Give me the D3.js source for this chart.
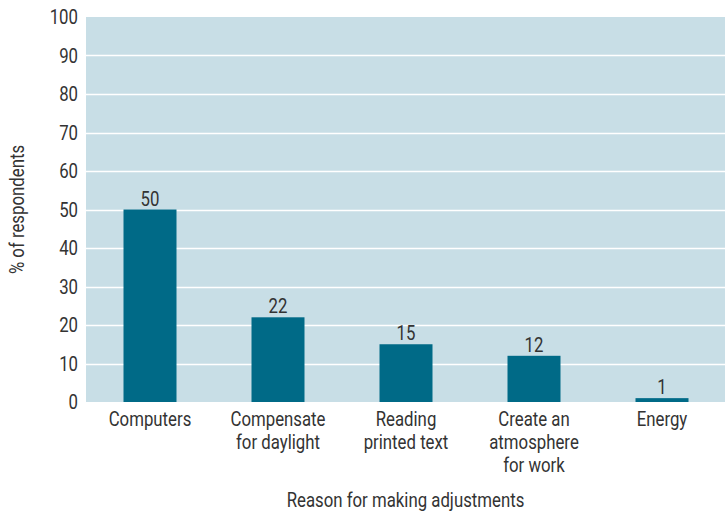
<!DOCTYPE html>
<html>
<head>
<meta charset="utf-8">
<script src="https://cdn.jsdelivr.net/npm/d3@7"></script>
<style>
  body { margin: 0; background: #fff; }
  text { font-family: "Roboto", sans-serif; fill: #333; }
</style>
</head>
<body>
<div id="chart"></div>
<script>
// data
const categories = ['Computers', 'Compensate for daylight', 'Reading printed text', 'Create an atmosphere for work', 'Energy'];
const labelLines = [['Computers'], ['Compensate', 'for daylight'], ['Reading', 'printed text'], ['Create an', 'atmosphere', 'for work'], ['Energy']];
const values = [50, 22, 15, 12, 1];
const yTicks = [0, 10, 20, 30, 40, 50, 60, 70, 80, 90, 100];

const width = 725, height = 512;
const margin = { top: 17, right: -1, bottom: 110, left: 86 };
const fontSize = 20;
const squeeze = 0.84; // fake a condensed face

const svg = d3.select('#chart').append('svg')
    .attr('width', width)
    .attr('height', height);

const x = d3.scaleBand()
    .domain(categories)
    .range([margin.left, width - margin.right])
    .paddingInner(0.586)
    .paddingOuter(0.293);

const y = d3.scaleLinear()
    .domain([0, 100])
    .range([height - margin.bottom, margin.top]);

// condensed text helper
function label(parent, px, py, anchor, lines, rotate) {
    const g = parent.append('g')
        .attr('transform', `translate(${px},${py})` + (rotate ? ` rotate(${rotate})` : '') + ` scale(${squeeze},1)`);
    const t = g.append('text')
        .attr('text-anchor', anchor)
        .attr('font-size', fontSize);
    t.selectAll('tspan')
        .data(lines)
        .join('tspan')
        .attr('x', 0)
        .attr('dy', (d, i) => i === 0 ? 0 : 23)
        .text(d => d);
    return g;
}

// plot background
svg.append('rect')
    .attr('x', margin.left)
    .attr('y', margin.top)
    .attr('width', width - margin.right - margin.left)
    .attr('height', y(0) - margin.top)
    .attr('fill', '#c8dee6');

// gridlines
svg.append('g')
    .selectAll('line')
    .data(yTicks.filter(d => d > 0 && d < 100))
    .join('line')
    .attr('x1', margin.left)
    .attr('x2', width)
    .attr('y1', d => Math.round(y(d)) + 0.5)
    .attr('y2', d => Math.round(y(d)) + 0.5)
    .attr('stroke', '#fff')
    .attr('stroke-width', 1.5);

// y tick labels
const yLab = svg.append('g');
yTicks.forEach(t => label(yLab, margin.left - 8, y(t) + 7, 'end', [String(t)]));

// bars
svg.append('g')
    .selectAll('rect')
    .data(values)
    .join('rect')
    .attr('x', (d, i) => x(categories[i]))
    .attr('y', d => y(d))
    .attr('width', x.bandwidth())
    .attr('height', d => y(0) - y(d))
    .attr('fill', '#006a87');

// value labels
const vLab = svg.append('g');
values.forEach((v, i) => label(vLab, x(categories[i]) + x.bandwidth() / 2, y(v) - 4, 'middle', [String(v)]));

// category labels
const cLab = svg.append('g');
categories.forEach((c, i) => label(cLab, x(c) + x.bandwidth() / 2, y(0) + 24, 'middle', labelLines[i]));

// axis titles
label(svg, (margin.left + width) / 2, 507, 'middle', ['Reason for making adjustments']);
label(svg, 24, (margin.top + y(0)) / 2, 'middle', ['% of respondents'], -90);
</script>
</body>
</html>
